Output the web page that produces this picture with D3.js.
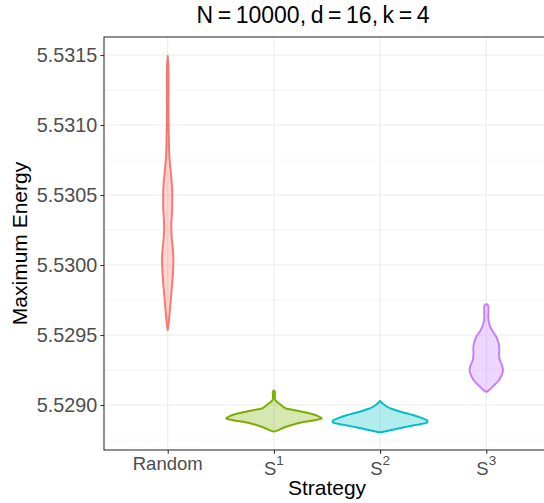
<!DOCTYPE html>
<html><head><meta charset="utf-8">
<script src="https://cdn.jsdelivr.net/npm/d3@7"></script>
<style>body{margin:0;background:#fff}svg{display:block}text{font-family:"Liberation Sans",Arial,Helvetica,sans-serif}</style>
</head><body><svg id="c" width="544" height="503"></svg>
<script>
const titleText = "N = 10000, d = 16, k = 4";
const categories = ["Random", "S1", "S2", "S3"];
const labelBase = ["Random", "S", "S", "S"];
const labelSup = ["", "1", "2", "3"];
const colors = ["#F8766D", "#7CAE00", "#00BFC4", "#C77CFF"];
const yTicks = [5.5290, 5.5295, 5.5300, 5.5305, 5.5310, 5.5315];
const yMinor = [5.52875, 5.52925, 5.52975, 5.53025, 5.53075, 5.53125];

// violin profiles: energy value and relative density (1 = widest violin)
const randomEnergy  = [5.5314929,5.5314286,5.5310357,5.5308929,5.5307857,5.5306786,5.5305714,5.5304643,5.5303786,5.5302857,5.5301929,5.5301071,5.5300357,5.5299643,5.5298714,5.5297643,5.5296643,5.5295857,5.5295357];
const randomDensity = [0,0.013,0.017,0.025,0.033,0.059,0.088,0.096,0.090,0.075,0.084,0.109,0.119,0.113,0.094,0.067,0.042,0.021,0];
const s1Energy  = [5.5291036,5.5290964,5.5290429,5.5290250,5.5290071,5.5289893,5.5289750,5.5289643,5.5289536,5.5289429,5.5289321,5.5289179,5.5289050,5.5288929,5.5288807,5.5288679,5.5288500,5.5288357,5.5288214,5.5288093];
const s1Density = [0,0.021,0.021,0.052,0.126,0.188,0.251,0.418,0.565,0.711,0.837,0.941,1,0.879,0.649,0.481,0.303,0.188,0.094,0];
const s2Energy  = [5.5290286,5.5290143,5.5290000,5.5289857,5.5289714,5.5289571,5.5289429,5.5289286,5.5289143,5.5289000,5.5288857,5.5288750,5.5288643,5.5288536,5.5288407,5.5288286,5.5288179,5.5288093,5.5288050];
const s2Density = [0,0.042,0.094,0.157,0.251,0.377,0.523,0.690,0.816,0.921,0.994,0.983,0.858,0.690,0.502,0.335,0.188,0.073,0];
const s3Energy  = [5.5297214,5.5297107,5.5296214,5.5295786,5.5295357,5.5294929,5.5294500,5.5294071,5.5293643,5.5293214,5.5292786,5.5292429,5.5292071,5.5291714,5.5291357,5.5291107,5.5290929];
const s3Density = [0,0.038,0.042,0.063,0.115,0.199,0.251,0.272,0.268,0.282,0.335,0.349,0.314,0.251,0.146,0.073,0];

const energies = [randomEnergy, s1Energy, s2Energy, s3Energy];
const densities = [randomDensity, s1Density, s2Density, s3Density];

const svg = d3.select("#c");
const P = {left: 104, right: 550, top: 37, bottom: 450};

const x = d3.scalePoint().domain(categories).range([P.left, P.right]).padding(0.6);
const y = d3.scaleLinear().domain([5.5290, 5.5315]).range([405, 55]);
const w = d3.scaleLinear().domain([0, 1]).range([0, 0.45 * x.step()]);

// grid
const g = svg.append("g");
g.selectAll(".ymin").data(yMinor).join("line")
  .attr("x1", P.left).attr("x2", P.right).attr("y1", d => y(d)).attr("y2", d => y(d))
  .attr("stroke", "#EBEBEB").attr("stroke-width", 0.55);
g.selectAll(".ymaj").data(yTicks).join("line")
  .attr("x1", P.left).attr("x2", P.right).attr("y1", d => y(d)).attr("y2", d => y(d))
  .attr("stroke", "#EBEBEB").attr("stroke-width", 1.1);
g.selectAll(".xmaj").data(categories).join("line")
  .attr("x1", d => x(d)).attr("x2", d => x(d)).attr("y1", P.top).attr("y2", P.bottom)
  .attr("stroke", "#EBEBEB").attr("stroke-width", 1.1);

// violins
categories.forEach((c, i) => {
  const pts = energies[i].map((e, j) => ({e, d: densities[i][j]}));
  const area = d3.area()
    .y(d => y(d.e))
    .x0(d => x(c) - w(d.d))
    .x1(d => x(c) + w(d.d))
    .curve(d3.curveCatmullRom);
  svg.append("path").attr("d", area(pts))
    .attr("fill", colors[i]).attr("fill-opacity", 0.3)
    .attr("stroke", colors[i]).attr("stroke-width", 1.9).attr("stroke-linejoin", "round");
});

// panel border
svg.append("rect").attr("x", P.left).attr("y", P.top)
  .attr("width", P.right - P.left).attr("height", P.bottom - P.top)
  .attr("fill", "none").attr("stroke", "#333333").attr("stroke-width", 1.1);

// y axis
const yAxis = d3.axisLeft(y).tickValues(yTicks).tickSize(3.7).tickPadding(3).tickFormat(d3.format(".4f"));
const ya = svg.append("g").attr("transform", `translate(${P.left},0)`).call(yAxis);
ya.select(".domain").remove();
ya.selectAll(".tick line").attr("stroke", "#333333").attr("stroke-width", 1.1);
ya.selectAll(".tick text").attr("fill", "#4D4D4D").style("font-size", "19.8px").attr("dy", "0.35em");

// x axis
const xAxis = d3.axisBottom(x).tickSize(3.7).tickFormat("");
const xa = svg.append("g").attr("transform", `translate(0,${P.bottom})`).call(xAxis);
xa.select(".domain").remove();
xa.selectAll(".tick line").attr("stroke", "#333333").attr("stroke-width", 1.1);

categories.forEach((c, i) => {
  const t = svg.append("text").attr("x", x(c)).attr("y", labelSup[i] ? 475 : 470)
    .attr("text-anchor", "middle").attr("fill", "#4D4D4D").style("font-size", "18.5px");
  t.append("tspan").text(labelBase[i]);
  if (labelSup[i]) t.append("tspan").attr("dy", -10).style("font-size", "13.5px").text(labelSup[i]);
});

// titles
svg.append("text").attr("x", 327).attr("y", 495).attr("text-anchor", "middle")
  .style("font-size", "21px").attr("fill", "#000").text("Strategy");
svg.append("text").attr("transform", "translate(27,243.5) rotate(-90)").attr("text-anchor", "middle")
  .style("font-size", "21px").attr("fill", "#000").text("Maximum Energy");
svg.append("text").attr("x", 313).attr("y", 23).attr("text-anchor", "middle")
  .style("font-size", "23px").style("word-spacing", "-1.8px").attr("fill", "#000").text(titleText);
</script></body></html>
